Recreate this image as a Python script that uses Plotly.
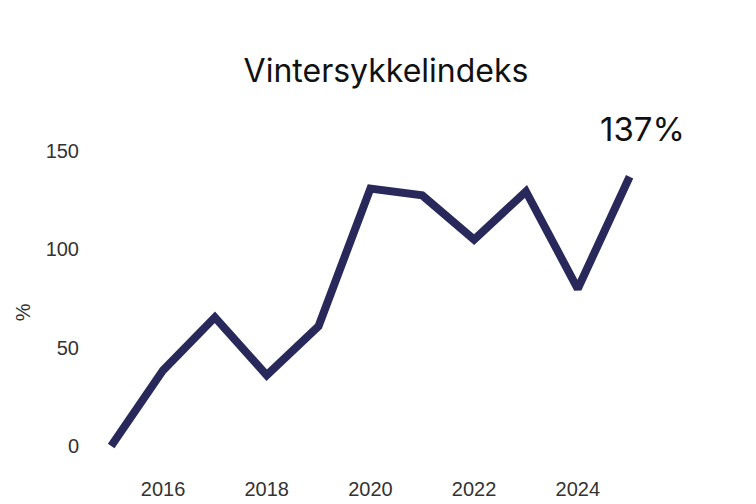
import plotly.graph_objects as go

years = [2015, 2016, 2017, 2018, 2019, 2020, 2021, 2022, 2023, 2024, 2025]
index_pct = [0, 38.5, 65.5, 36, 61, 131, 127.5, 105, 129.5, 80, 137]
x_ticks = [2016, 2018, 2020, 2022, 2024]
y_ticks = [0, 50, 100, 150]

title_text = "Vintersykkelindeks"
y_label = "%"
last_label = f"{index_pct[-1]:.0f}%"

fig = go.Figure()
fig.add_trace(go.Scatter(
    x=years,
    y=index_pct,
    mode="lines",
    line=dict(color="#28285a", width=8),
    hoverinfo="skip",
    showlegend=False,
))

# label next to the last point
fig.add_annotation(
    x=years[-1], y=index_pct[-1],
    text=last_label,
    showarrow=False,
    xanchor="center", yanchor="bottom",
    xshift=13, yshift=26,
    font=dict(family="Inter, Noto Sans, sans-serif", size=33, color="#111111"),
)

# y axis title, placed a bit below the middle like the original
fig.add_annotation(
    xref="paper", yref="paper", x=-0.115, y=0.415,
    text=y_label, textangle=-90, showarrow=False,
    xanchor="center", yanchor="middle",
    font=dict(family="Liberation Sans, Arial, sans-serif", size=20, color="#333333"),
)

fig.update_layout(
    width=756, height=504,
    paper_bgcolor="white", plot_bgcolor="white",
    margin=dict(l=84, r=67, t=95, b=49),
    title=dict(
        text=title_text, x=0.5, xanchor="center", y=0.875, yanchor="middle",
        font=dict(family="Inter, Noto Sans, sans-serif", size=32, color="#111111"),
    ),
    font=dict(family="Liberation Sans, Arial, sans-serif", size=20, color="#333333"),
)
fig.update_xaxes(
    range=[2014.63, 2026.3],
    tickvals=x_ticks,
    showgrid=False, zeroline=False, showline=False,
    ticks="outside", ticklen=11, tickcolor="rgba(0,0,0,0)",
)
fig.update_yaxes(
    range=[-7.1, 174.5],
    tickvals=y_ticks,
    showgrid=False, zeroline=False, showline=False,
    ticks="outside", ticklen=8, tickcolor="rgba(0,0,0,0)",
)

fig.write_html("out.html")
